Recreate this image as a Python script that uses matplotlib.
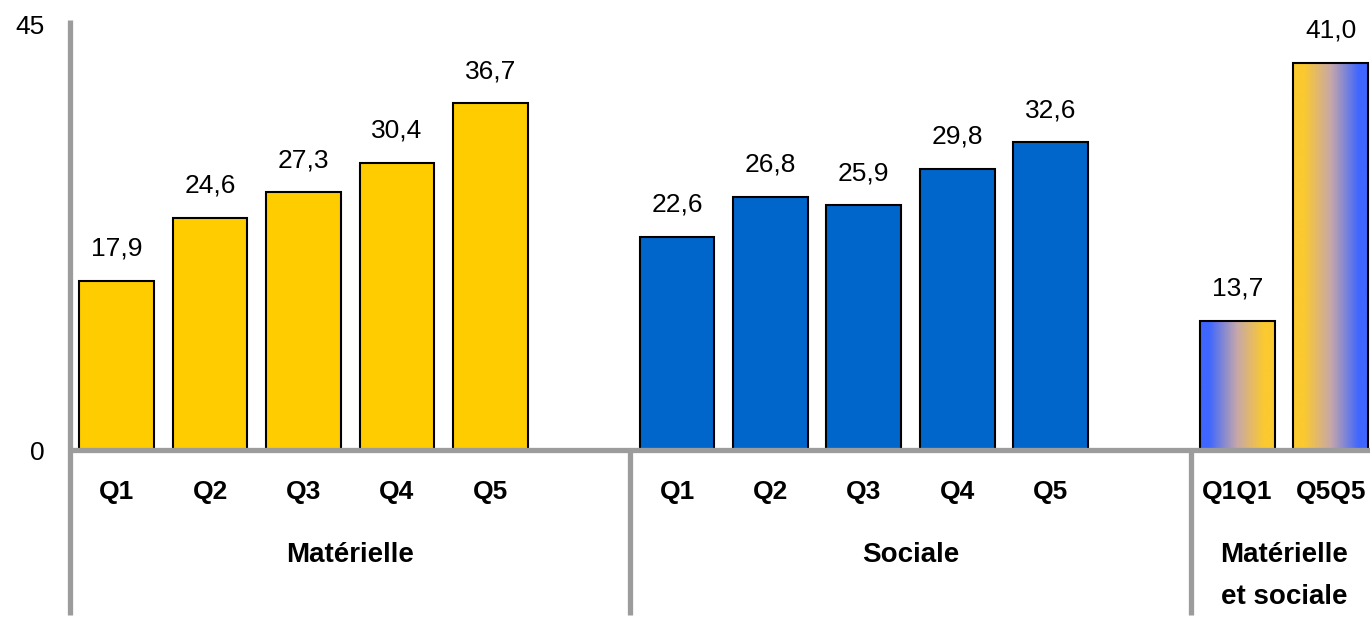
import numpy as np
import matplotlib
matplotlib.use("Agg")
import matplotlib.pyplot as plt
from matplotlib.patches import Rectangle
from matplotlib.colors import LinearSegmentedColormap
import matplotlib.transforms as mtransforms

plt.rcParams['font.family'] = ['Liberation Sans', 'DejaVu Sans']

# Data
quintiles = ["Q1", "Q2", "Q3", "Q4", "Q5"]
materielle = [17.9, 24.6, 27.3, 30.4, 36.7]
sociale = [22.6, 26.8, 25.9, 29.8, 32.6]
combined_labels = ["Q1Q1", "Q5Q5"]
combined = [13.7, 41.0]
group_names = ["Matérielle", "Sociale", "Matérielle\net sociale"]
y_ticks = [0, 45]

YELLOW = "#FFCC00"
BLUE = "#0066CC"
GRAD_BLUE = "#3F66FF"
GRAD_YELLOW = "#FBC930"
AXIS_GRAY = "#9C9C9C"

W, H = 1370, 621
fig = plt.figure(figsize=(W / 100, H / 100), dpi=100)
ax_left, ax_right = 70, 1370
ax_top, ax_zero = 25, 450
ax = fig.add_axes([ax_left / W, (H - ax_zero) / H, (ax_right - ax_left) / W, (ax_zero - ax_top) / H])

bar_w = 0.8
pos_mat = np.arange(5)
pos_soc = np.arange(6, 11)
pos_comb = np.array([12, 13])

ax.bar(pos_mat, materielle, width=bar_w, color=YELLOW, edgecolor="black", linewidth=1.5, zorder=3)
ax.bar(pos_soc, sociale, width=bar_w, color=BLUE, edgecolor="black", linewidth=1.5, zorder=3)

# Gradient-filled bars for the combined deprivation group
grad_cmap = LinearSegmentedColormap.from_list(
    "bluey", [(0.0, GRAD_BLUE), (0.12, GRAD_BLUE), (0.5, "#C8A8A8"), (0.85, GRAD_YELLOW), (1.0, GRAD_YELLOW)])
ramp = np.linspace(0, 1, 256).reshape(1, -1)
for i, (x, v) in enumerate(zip(pos_comb, combined)):
    g = ramp if i == 0 else ramp[:, ::-1]
    im = ax.imshow(g, cmap=grad_cmap, aspect="auto",
                   extent=(x - bar_w / 2, x + bar_w / 2, 0, v), zorder=2, interpolation="bilinear")
    rect = Rectangle((x - bar_w / 2, 0), bar_w, v, facecolor="none", edgecolor="black",
                     linewidth=1.5, zorder=3)
    ax.add_patch(rect)
    im.set_clip_path(rect)
ax.set_xlim(-0.5, 13.42)
ax.set_ylim(0, 45)

# Value labels
all_pos = list(pos_mat) + list(pos_soc) + list(pos_comb)
all_vals = materielle + sociale + combined
for x, v in zip(all_pos, all_vals):
    ax.annotate(f"{v:.1f}".replace(".", ","), (x, v), xytext=(0, 25), textcoords="offset pixels",
                ha="center", va="baseline", fontsize=19, color="black")

# Axes styling
for s in ax.spines.values():
    s.set_visible(False)
ax.set_xticks([])
ax.set_yticks(y_ticks)
ax.set_yticklabels([str(t) for t in y_ticks], fontsize=19)
ax.tick_params(axis="y", length=0, pad=18)

axis_h = ax_zero - ax_top
below = (615 - ax_zero) / axis_h
trans = mtransforms.blended_transform_factory(ax.transData, ax.transAxes)
ax.plot([0, 0], [-below, 1.012], transform=ax.transAxes, color=AXIS_GRAY, lw=3.8,
        clip_on=False, zorder=4, solid_capstyle="butt")
ax.plot([0, 1.01], [0, 0], transform=ax.transAxes, color=AXIS_GRAY, lw=3.8,
        clip_on=False, zorder=4, solid_capstyle="butt")
for sx in [5.5, 11.5]:
    ax.plot([sx, sx], [0, -below], transform=trans, color=AXIS_GRAY, lw=3.8,
            clip_on=False, zorder=4, solid_capstyle="butt")

# Category and group labels
q_y = -(492 - ax_zero) / axis_h
for x, lab in zip(all_pos, quintiles + quintiles + combined_labels):
    ax.text(x, q_y, lab, transform=trans, ha="center", va="center", fontsize=19, fontweight="bold")

for x, name in zip([2.5, 8.5, 12.5], group_names):
    for k, line in enumerate(name.split("\n")):
        gy = -(555 + 42 * k - ax_zero) / axis_h
        ax.text(x, gy, line, transform=trans, ha="center", va="center",
                fontsize=20, fontweight="bold")

fig.savefig("out.png", dpi=100)
